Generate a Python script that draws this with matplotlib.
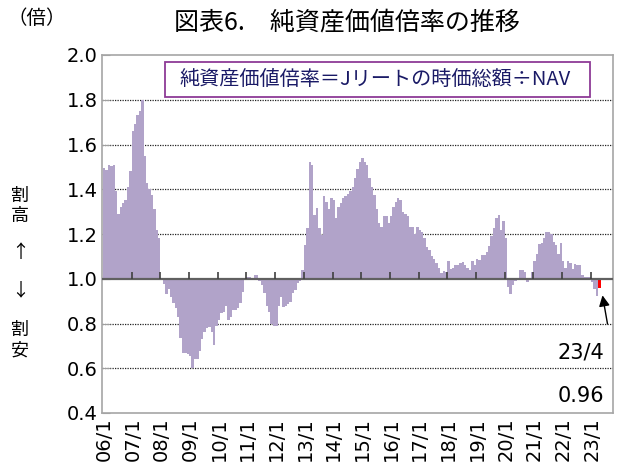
import numpy as np
import matplotlib
matplotlib.use("Agg")
import matplotlib.pyplot as plt
from matplotlib.patches import Rectangle

plt.rcParams['font.family'] = ['DejaVu Sans', 'Noto Sans CJK JP']
JP = ['Noto Sans CJK JP', 'DejaVu Sans']

# ---- data: NAV multiple (monthly, 2006/1 - 2023/4) ----
v2006 = [1.495, 1.487, 1.51, 1.505, 1.51, 1.39, 1.29, 1.32, 1.34, 1.35, 1.41, 1.48]
v2007 = [1.66, 1.69, 1.73, 1.75, 1.80, 1.55, 1.43, 1.40, 1.375, 1.31, 1.22, 1.18]
v2008 = [0.995, 0.975, 0.93, 0.955, 0.92, 0.89, 0.87, 0.83, 0.735, 0.67, 0.67, 0.665]
v2009 = [0.655, 0.60, 0.64, 0.64, 0.675, 0.73, 0.76, 0.78, 0.785, 0.76, 0.705, 0.79]
v2010 = [0.817, 0.845, 0.85, 0.876, 0.817, 0.83, 0.86, 0.86, 0.87, 0.89, 0.94, 0.995]
v2011 = [1.01, 1.01, 0.995, 1.015, 1.015, 0.99, 0.97, 0.935, 0.88, 0.85, 0.80, 0.79]
v2012 = [0.79, 0.88, 0.92, 0.875, 0.88, 0.885, 0.895, 0.935, 0.95, 0.98, 0.99, 1.04]
v2013 = [1.15, 1.225, 1.52, 1.51, 1.285, 1.315, 1.225, 1.195, 1.37, 1.345, 1.31, 1.36]
v2014 = [1.35, 1.27, 1.32, 1.34, 1.36, 1.37, 1.38, 1.39, 1.41, 1.45, 1.49, 1.52]
v2015 = [1.54, 1.52, 1.51, 1.45, 1.41, 1.375, 1.31, 1.25, 1.23, 1.28, 1.28, 1.25]
v2016 = [1.28, 1.32, 1.345, 1.36, 1.35, 1.30, 1.29, 1.28, 1.23, 1.23, 1.20, 1.23]
v2017 = [1.22, 1.21, 1.18, 1.14, 1.13, 1.10, 1.09, 1.07, 1.05, 1.025, 1.035, 1.03]
v2018 = [1.08, 1.045, 1.05, 1.06, 1.06, 1.07, 1.075, 1.06, 1.05, 1.04, 1.08, 1.06]
v2019 = [1.09, 1.085, 1.105, 1.105, 1.12, 1.145, 1.19, 1.225, 1.27, 1.285, 1.22, 1.26]
v2020 = [1.18, 0.965, 0.93, 0.97, 0.99, 0.995, 1.04, 1.04, 1.03, 0.985, 1.0, 1.03]
v2021 = [1.08, 1.11, 1.155, 1.16, 1.18, 1.21, 1.21, 1.20, 1.165, 1.15, 1.11, 1.16]
v2022 = [1.08, 1.05, 1.08, 1.07, 1.045, 1.065, 1.06, 1.06, 1.015, 1.01, 1.01, 1.01]
v2023 = [0.985, 0.955, 0.925, 0.96]

years = list(range(2006, 2024))
x_labels = [f"{y % 100:02d}/1" for y in years]
y_ticks = [0.4, 0.6, 0.8, 1.0, 1.2, 1.4, 1.6, 1.8, 2.0]
last_label = "23/4"

values = np.array(v2006 + v2007 + v2008 + v2009 + v2010 + v2011 + v2012 + v2013 +
                  v2014 + v2015 + v2016 + v2017 + v2018 + v2019 + v2020 + v2021 +
                  v2022 + v2023)
n = len(values)
xpos = np.arange(n) + 0.5

W, H = 617, 472
fig = plt.figure(figsize=(W / 100, H / 100), dpi=100)
ax = fig.add_axes([102 / W, 1 - 413 / H, (613 - 102) / W, (413 - 55) / H])

base = 1.0
colors = ['#b1a3c9'] * n
colors[-1] = '#ff0000'
widths = [1.0] * n
widths[-1] = 1.35
ax.bar(xpos, values - base, bottom=base, width=widths, color=colors,
       edgecolor='none', linewidth=0, zorder=2)

ax.set_xlim(-0.4, 213.3)
ax.set_ylim(0.4, 2.0)

# grid lines
for g in [0.6, 0.8, 1.2, 1.4, 1.6, 1.8]:
    ax.axhline(g, color='#222222', linestyle=(0, (1, 1)), linewidth=0.9, zorder=1)
# base line
ax.axhline(base, color='#606060', linewidth=1.6, zorder=3)
bounds = np.arange(12, n, 12)
ax.vlines(bounds, base, base + 0.028, color='#404040', linewidth=1.2, zorder=3)

for s in ax.spines.values():
    s.set_color('#a6a6a6')
    s.set_linewidth(1.2)

ax.set_yticks(y_ticks)
ax.set_yticklabels([f"{t:.1f}" for t in y_ticks], fontsize=14)
ax.tick_params(axis='y', direction='in', length=6, color='#a0a0a0', pad=3)
ax.set_xticks(np.arange(0, n, 12) + 0.5)
ax.set_xticklabels(x_labels, rotation=90, fontsize=14)
ax.tick_params(axis='x', length=0, pad=3)

# legend-like box
ax.add_patch(Rectangle((0.123, 0.883), 0.832, 0.097, transform=ax.transAxes,
                       facecolor='white', edgecolor='#8e3a96', linewidth=1.3, zorder=5))
ax.text(0.535, 0.931, "純資産価値倍率＝Jリートの時価総額÷NAV", transform=ax.transAxes,
        ha='center', va='center', fontsize=14.5, color='#1a1a66', family=JP, zorder=6)

# annotation for latest value
ax.annotate('', xy=(xpos[-1] + 1.2, values[-1] - 0.022), xytext=(xpos[-1] + 3.7, 0.786),
            arrowprops=dict(arrowstyle='-|>', color='black', lw=1.0, mutation_scale=16),
            zorder=6)
ax.text(0.937, 0.170, last_label, transform=ax.transAxes, ha='center', va='center',
        fontsize=15)
ax.text(0.937, 0.047, f"{values[-1]:.2f}", transform=ax.transAxes, ha='center',
        va='center', fontsize=15)

# titles and side labels
fig.text(347 / W, 1 - 22 / H, "図表6.　純資産価値倍率の推移", ha='center', va='center',
         fontsize=18, family=JP)
fig.text(37 / W, 1 - 19 / H, "（倍）", ha='center', va='center', fontsize=14, family=JP)
fig.text(20 / W, 1 - 206 / H, "割\n高", ha='center', va='center', fontsize=13,
         family=JP, linespacing=1.2)
fig.text(20 / W, 1 - 253 / H, "↑", ha='center', va='center', fontsize=13, family=JP)
fig.text(20 / W, 1 - 290 / H, "↓", ha='center', va='center', fontsize=13, family=JP)
fig.text(20 / W, 1 - 340 / H, "割\n安", ha='center', va='center', fontsize=13,
         family=JP, linespacing=1.2)

fig.savefig("out.png", dpi=100)
